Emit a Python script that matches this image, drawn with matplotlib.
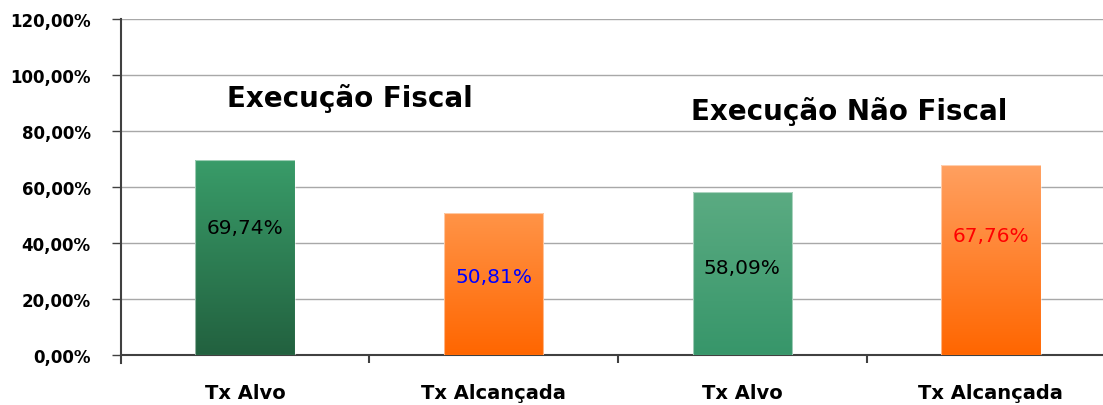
import numpy as np
import matplotlib.pyplot as plt
from matplotlib.colors import LinearSegmentedColormap
from matplotlib.ticker import FuncFormatter

plt.rcParams['font.family'] = ['DejaVu Sans']

categories = ['Tx Alvo', 'Tx Alcançada', 'Tx Alvo', 'Tx Alcançada']
values = [69.74, 50.81, 58.09, 67.76]
value_labels = ['69,74%', '50,81%', '58,09%', '67,76%']
label_y = [45.7, 27.9, 31.4, 42.5]
label_colors = ['black', '#0000ff', 'black', '#ff0000']
# (bottom colour, top colour) for each bar
bar_colors = [('#22613f', '#399c69'), ('#ff6600', '#ff9448'),
              ('#37966a', '#5bab82'), ('#ff6600', '#ffa060')]
yticks = [0, 20, 40, 60, 80, 100, 120]
titles = ['Execução Fiscal', 'Execução Não Fiscal']
title_pos = [(0.42, 91.8), (2.43, 87.5)]

fig = plt.figure(figsize=(11.03, 4.06), dpi=100)
ax = fig.add_axes([0.1094, 0.1232, 0.9017, 0.8275])

x = np.arange(len(values))
bars = ax.bar(x, values, width=0.4, color='none', edgecolor='none', zorder=3)

for b, (c0, c1) in zip(bars, bar_colors):
    cmap = LinearSegmentedColormap.from_list('g', [c0, c1])
    grad = np.linspace(0, 1, 256).reshape(-1, 1)
    bx, by = b.get_x(), b.get_y()
    im = ax.imshow(grad, cmap=cmap, origin='lower', aspect='auto',
                   extent=[bx, bx + b.get_width(), by, by + b.get_height()], zorder=3)
    im.set_clip_path(b)
    ax.add_patch(plt.Rectangle((bx, by), b.get_width(), b.get_height(),
                               fill=False, edgecolor='#ffffff', lw=0.8, alpha=0.5, zorder=4))

for xi, yl, txt, c in zip(x, label_y, value_labels, label_colors):
    ax.text(xi, yl, txt, ha='center', va='center', fontsize=14.5, color=c, zorder=5)

for t, (tx, ty) in zip(titles, title_pos):
    ax.text(tx, ty, t, ha='center', va='center', fontsize=20,
            fontweight='bold', zorder=5)

ax.set_xlim(-0.5, 3.5)
ax.set_ylim(0, 120)
ax.set_yticks(yticks)
ax.yaxis.set_major_formatter(FuncFormatter(lambda v, p: f'{v:.2f}%'.replace('.', ',')))
ax.set_xticks(x)
ax.set_xticklabels(categories, fontweight='bold', fontsize=14)
ax.set_xticks([0.5, 1.5, 2.5], minor=True)
ax.tick_params(axis='x', which='major', length=0, pad=20)
ax.tick_params(axis='x', which='minor', length=6, width=1.5, color='#404040')
ax.tick_params(axis='y', length=6.5, width=1, color='#404040', labelsize=12, pad=15)
for lab in ax.get_yticklabels():
    lab.set_fontweight('bold')

ax.grid(axis='y', color='#a8a8a8', lw=1, zorder=0)
ax.spines['top'].set_visible(False)
ax.spines['right'].set_visible(False)
ax.spines['left'].set_color('#404040')
ax.spines['left'].set_bounds(-3, 120)
ax.spines['bottom'].set_color('#404040')
ax.spines['bottom'].set_linewidth(1.5)
ax.spines['left'].set_linewidth(1.5)

fig.savefig('out.png', dpi=100)
